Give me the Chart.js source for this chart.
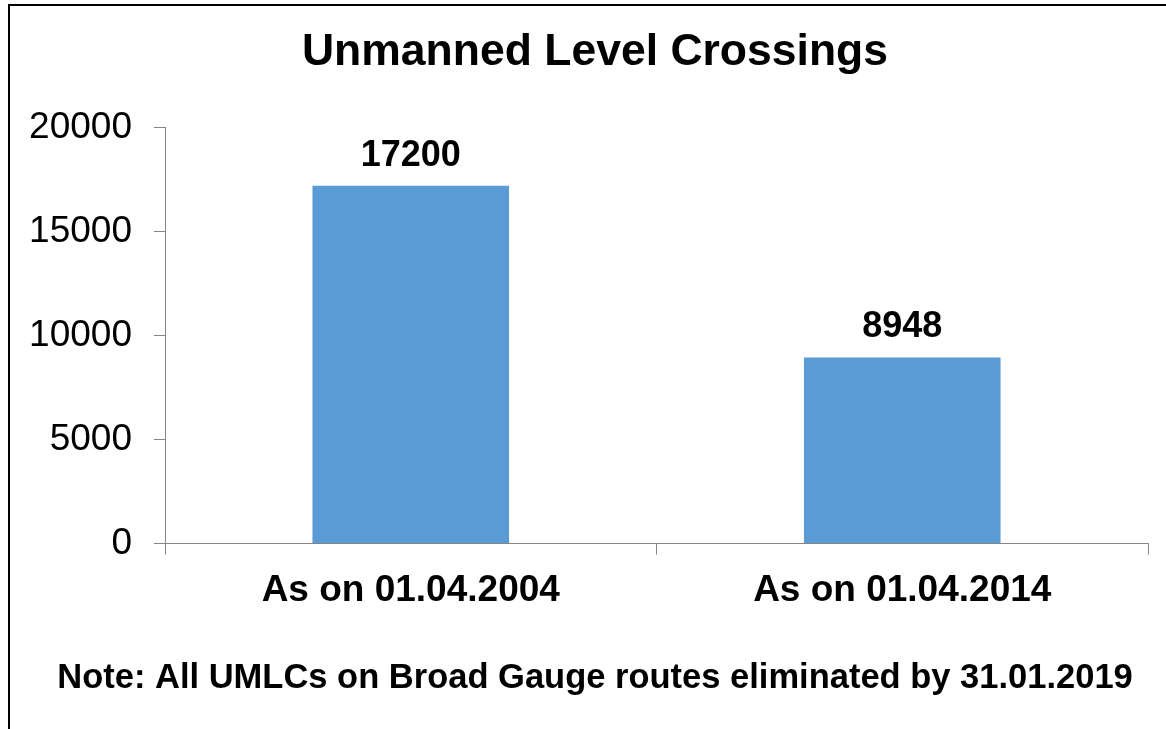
<!DOCTYPE html>
<html>
<head>
<meta charset="utf-8">
<script src="https://cdn.jsdelivr.net/npm/chart.js@4"></script>
<style>
  html, body { margin: 0; padding: 0; background: #fff; overflow: hidden; }
  #wrap { position: relative; width: 1166px; height: 729px; }
  #frame { position: absolute; left: 8px; top: 4px; width: 2000px; height: 2000px;
           border-left: 2px solid #000; border-top: 2px solid #000; pointer-events: none; }
</style>
</head>
<body>
<div id="wrap">
  <canvas id="chart"></canvas>
  <div id="frame"></div>
</div>
<script>
// chart data
const categories = ['As on 01.04.2004', 'As on 01.04.2014'];
const crossings = [17200, 8948];
const yTicks = [0, 5000, 10000, 15000, 20000];

const FONT = '"Liberation Sans", Arial, sans-serif';
const axisGray = '#868686';

// value labels above each bar
const barLabels = {
  id: 'barLabels',
  afterDatasetsDraw(chart) {
    const ctx = chart.ctx;
    const meta = chart.getDatasetMeta(0);
    ctx.save();
    ctx.font = 'bold 36px ' + FONT;
    ctx.fillStyle = '#000';
    ctx.textAlign = 'center';
    ctx.textBaseline = 'alphabetic';
    meta.data.forEach((bar, i) => {
      ctx.fillText(String(crossings[i]), bar.x, bar.y - 20);
    });
    ctx.restore();
  }
};

Chart.defaults.color = '#000';
Chart.defaults.font.family = FONT;

const ctx = document.getElementById('chart').getContext('2d');
window.umlcChart = new Chart(ctx, {
  type: 'bar',
  data: {
    labels: categories,
    datasets: [{
      label: 'Unmanned Level Crossings',
      data: crossings,
      backgroundColor: '#5B9BD5',
      borderWidth: 0,
      categoryPercentage: 1,
      barPercentage: 0.4
    }]
  },
  options: {
    responsive: true,
    maintainAspectRatio: false,
    animation: false,
    layout: { padding: { left: 24, right: 0, top: 10, bottom: 12 } },
    scales: {
      y: {
        min: 0,
        max: 20000,
        afterBuildTicks: scale => { scale.ticks = yTicks.map(v => ({ value: v })); },
        afterFit: scale => { scale.width = 141; },
        ticks: { font: { size: 37 }, color: '#000', padding: 22, callback: v => String(v) },
        grid: { drawOnChartArea: false, tickLength: 11, color: axisGray },
        border: { color: axisGray, width: 1 }
      },
      // empty spacer on the right so the title sits where it does in the original
      spacer: {
        type: 'linear',
        position: 'right',
        afterFit: scale => { scale.width = 18; },
        ticks: { display: false },
        grid: { display: false },
        border: { display: false }
      },
      x: {
        afterFit: scale => { scale.height = 80; },
        ticks: { font: { size: 37, weight: 'bold' }, color: '#000', padding: 14 },
        grid: { drawOnChartArea: false, tickLength: 11, color: axisGray, offset: true },
        border: { color: axisGray, width: 1 }
      }
    },
    plugins: {
      legend: { display: false },
      tooltip: { enabled: false },
      title: {
        display: true,
        text: 'Unmanned Level Crossings',
        font: { size: 44.5, weight: 'bold' },
        color: '#000',
        padding: { top: 16, bottom: 48 }
      },
      subtitle: {
        display: true,
        position: 'bottom',
        text: 'Note: All UMLCs on Broad Gauge routes eliminated by 31.01.2019',
        font: { size: 34.5, weight: 'bold' },
        color: '#000',
        padding: { top: 34, bottom: 18 }
      }
    }
  },
  plugins: [barLabels]
});
</script>
</body>
</html>
